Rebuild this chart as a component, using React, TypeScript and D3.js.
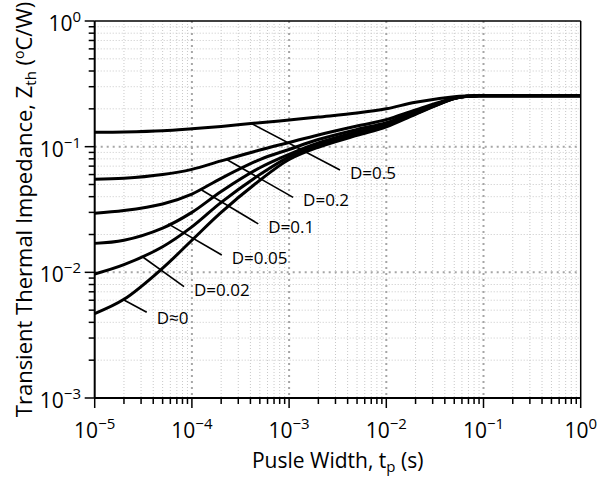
import React from 'react';
import * as d3 from 'd3';

// Pulse width (s)
const TP = [1e-5, 2e-5, 5e-5, 1e-4, 2e-4, 5e-4, 1e-3, 2e-3, 5e-3, 1e-2, 2e-2, 5e-2, 7e-2, 1e-1, 1];
// Zth (degC/W) for each duty cycle
const Z_D050 = [0.130, 0.131, 0.134, 0.139, 0.145, 0.155, 0.163, 0.172, 0.185, 0.200, 0.226, 0.250, 0.253, 0.254, 0.254];
const Z_D020 = [0.055, 0.056, 0.060, 0.066, 0.077, 0.094, 0.108, 0.124, 0.146, 0.164, 0.196, 0.244, 0.252, 0.254, 0.254];
const Z_D010 = [0.0295, 0.031, 0.035, 0.042, 0.056, 0.079, 0.095, 0.114, 0.137, 0.155, 0.189, 0.243, 0.252, 0.254, 0.254];
const Z_D005 = [0.0170, 0.018, 0.0225, 0.030, 0.044, 0.068, 0.087, 0.107, 0.131, 0.150, 0.186, 0.242, 0.252, 0.254, 0.254];
const Z_D002 = [0.0097, 0.0115, 0.0160, 0.023, 0.036, 0.060, 0.083, 0.103, 0.127, 0.147, 0.183, 0.242, 0.252, 0.254, 0.254];
const Z_D000 = [0.0047, 0.0061, 0.0108, 0.0180, 0.030, 0.054, 0.079, 0.099, 0.123, 0.144, 0.181, 0.241, 0.252, 0.254, 0.254];

const SERIES = [Z_D050, Z_D020, Z_D010, Z_D005, Z_D002, Z_D000];
const LABELS = ['D=0.5', 'D=0.2', 'D=0.1', 'D=0.05', 'D=0.02', 'D≈0'];
// leader start (on curve) and end, in data units [t, Z]
const LEADER_START: [number, number][] = [
  [4.15e-4, 0.152], [2.28e-4, 0.079], [1.26e-4, 0.0452], [5.7e-5, 0.0243], [3.1e-5, 0.0133], [2.0e-5, 0.00603],
];
const LEADER_END: [number, number][] = [
  [3.34e-3, 0.0652], [1.1e-3, 0.0395], [4.82e-4, 0.0243], [2.03e-4, 0.01374], [8.3e-5, 0.00769], [3.43e-5, 0.00481],
];

const X_EXP = [-5, -4, -3, -2, -1, 0];
const Y_EXP = [-3, -2, -1, 0];
const X_TITLE = 'Pusle Width, t';
const Y_TITLE = 'Transient Thermal Impedance, Z';

const W = 613, H = 483;
const L = 94.7, R = 580.7, T = 21, B = 398;
const FONT = '"Open Sans", "Noto Sans", sans-serif';

export default function App() {
  const x = d3.scaleLog().domain([1e-5, 1]).range([L, R]);
  const y = d3.scaleLog().domain([1e-3, 1]).range([B, T]);

  const minorX: number[] = [];
  for (let e = -5; e < 0; e++) for (let k = 2; k <= 9; k++) minorX.push(k * Math.pow(10, e));
  const minorY: number[] = [];
  for (let e = -3; e < 0; e++) for (let k = 2; k <= 9; k++) minorY.push(k * Math.pow(10, e));

  const line = d3
    .line<[number, number]>()
    .x((d) => x(d[0]))
    .y((d) => y(d[1]))
    .curve(d3.curveCatmullRom.alpha(0.5));

  return (
    <svg width={W} height={H} style={{ position: 'absolute', left: 0, top: 0, background: '#fff' }} fontFamily={FONT}>
      <rect x={0} y={0} width={W} height={H} fill="#fff" />
      {/* minor grid */}
      {minorX.map((v, i) => (
        <line key={'mgx' + i} x1={x(v)} x2={x(v)} y1={T} y2={B} stroke="#c8c8c8" strokeWidth={1} strokeDasharray="1,2" />
      ))}
      {minorY.map((v, i) => (
        <line key={'mgy' + i} x1={L} x2={R} y1={y(v)} y2={y(v)} stroke="#c8c8c8" strokeWidth={1} strokeDasharray="1,2" />
      ))}
      {/* major grid */}
      {X_EXP.slice(1, -1).map((e) => (
        <line key={'Mgx' + e} x1={x(Math.pow(10, e))} x2={x(Math.pow(10, e))} y1={T} y2={B} stroke="#a6a6a6" strokeWidth={2} strokeDasharray="2,4" />
      ))}
      {Y_EXP.slice(1, -1).map((e) => (
        <line key={'Mgy' + e} x1={L} x2={R} y1={y(Math.pow(10, e))} y2={y(Math.pow(10, e))} stroke="#a6a6a6" strokeWidth={2} strokeDasharray="2,4" />
      ))}
      {/* frame */}
      <line x1={L} x2={R} y1={T} y2={T} stroke="#000" strokeWidth={1.5} />
      <line x1={R} x2={R} y1={T} y2={B} stroke="#000" strokeWidth={1.5} />
      <line x1={L} x2={R} y1={B} y2={B} stroke="#000" strokeWidth={2} />
      <line x1={L} x2={L} y1={T} y2={B} stroke="#000" strokeWidth={2} />
      {/* ticks */}
      {minorX.map((v, i) => (
        <line key={'tx' + i} x1={x(v)} x2={x(v)} y1={B} y2={B + 6} stroke="#000" strokeWidth={1.5} />
      ))}
      {X_EXP.map((e) => (
        <line key={'Tx' + e} x1={x(Math.pow(10, e))} x2={x(Math.pow(10, e))} y1={B} y2={B + 10} stroke="#000" strokeWidth={1.5} />
      ))}
      {minorY.map((v, i) => (
        <line key={'ty' + i} x1={L - 6} x2={L} y1={y(v)} y2={y(v)} stroke="#000" strokeWidth={1.5} />
      ))}
      {Y_EXP.map((e) => (
        <line key={'Ty' + e} x1={L - 10} x2={L} y1={y(Math.pow(10, e))} y2={y(Math.pow(10, e))} stroke="#000" strokeWidth={1.5} />
      ))}
      {/* tick labels */}
      {X_EXP.map((e) => (
        <text key={'lx' + e} x={x(Math.pow(10, e))} y={B + 40} textAnchor="middle" fontSize={21} fill="#000">
          10<tspan fontSize={15} dy={-9}>{e < 0 ? '\u2212' + Math.abs(e) : String(e)}</tspan>
        </text>
      ))}
      {Y_EXP.map((e) => (
        <text key={'ly' + e} x={81} y={y(Math.pow(10, e)) + 10} textAnchor="end" fontSize={21} fill="#000">
          10<tspan fontSize={15} dy={-9}>{e < 0 ? '\u2212' + Math.abs(e) : String(e)}</tspan>
        </text>
      ))}
      {/* curves */}
      {SERIES.map((s, i) => (
        <path key={'c' + i} d={line(TP.map((t, j) => [t, s[j]] as [number, number])) || ''} fill="none" stroke="#000" strokeWidth={3} strokeLinejoin="round" />
      ))}
      {/* leaders and labels */}
      {LABELS.map((lab, i) => {
        const [t0, z0] = LEADER_START[i];
        const [t1, z1] = LEADER_END[i];
        return (
          <g key={'lab' + i}>
            <line x1={x(t0)} y1={y(z0)} x2={x(t1)} y2={y(z1)} stroke="#000" strokeWidth={1.6} />
            <text x={x(t1) + 10} y={y(z1) + (i === 5 ? 12 : 9)} fontSize={17} fill="#000">{lab}</text>
          </g>
        );
      })}
      {/* axis titles */}
      <text x={(L + R) / 2} y={468} textAnchor="middle" fontSize={21} fill="#000">
        {X_TITLE}<tspan fontSize={15} dy={4}>p</tspan><tspan dy={-4}> (s)</tspan>
      </text>
      <text transform={`translate(32,${(T + B) / 2}) rotate(-90)`} textAnchor="middle" fontSize={22} fill="#000">
        {Y_TITLE}<tspan fontSize={15} dy={4}>th</tspan><tspan dy={-4}> (</tspan><tspan fontSize={14} dy={-8}>o</tspan><tspan dy={8}>C/W)</tspan>
      </text>
    </svg>
  );
}
